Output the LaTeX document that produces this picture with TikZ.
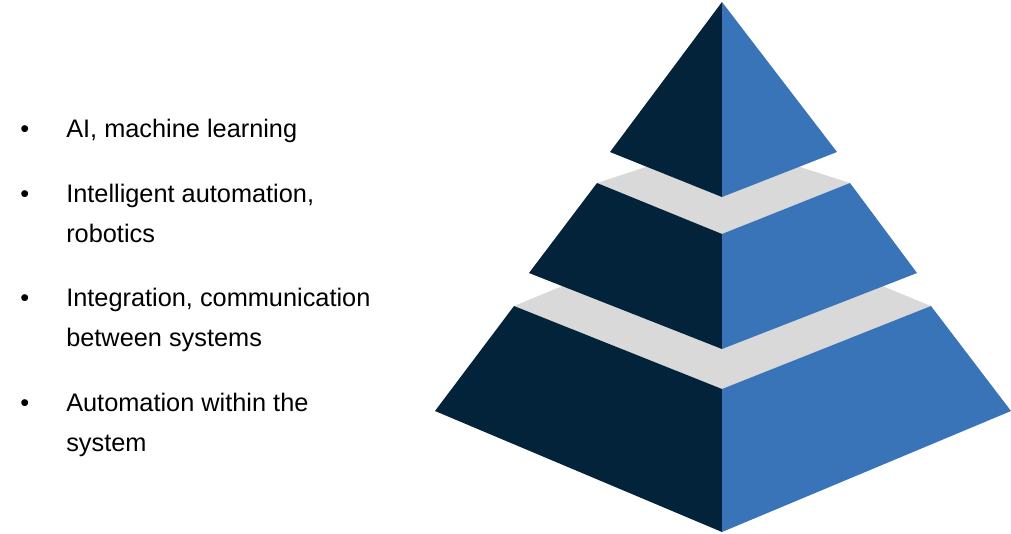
\documentclass[tikz,border=0pt]{standalone}
\usepackage{fontspec}
\setmainfont{Liberation Sans}
\definecolor{dk}{HTML}{02233A}
\definecolor{bl}{HTML}{3A74B8}
\definecolor{gr}{HTML}{D9D9D9}
\begin{document}
\begin{tikzpicture}[x=0.75pt,y=-0.75pt,
  txt/.style={anchor=base west,inner sep=0pt,font=\fontsize{19}{23}\selectfont,text=black}]
\useasboundingbox (0,0) rectangle (1011,533);
\fill[gr] (597,183)--(722,142)--(850,183)--(722,234)--cycle;
\fill[gr] (514,306)--(722,220)--(931,306)--(722,389)--cycle;
\fill[dk] (722,2)--(610,152)--(722,197)--cycle;
\fill[bl] (722,2)--(837,152)--(722,197)--cycle;
\fill[dk] (722,234)--(597,183)--(529,273)--(722,349)--cycle;
\fill[bl] (722,234)--(850,183)--(917,273)--(722,349)--cycle;
\fill[dk] (722,389)--(514,306)--(435,411)--(722,532)--cycle;
\fill[bl] (722,389)--(931,306)--(1011,411)--(722,532)--cycle;
\foreach \n/\y in {b1/137,b2/202,b3/306,b4/411}
  \node[txt] (\n) at (20,\y) {•};
\node[txt] (t1) at (66,137) {AI, machine learning};
\node[txt] (t2) at (66,202) {Intelligent automation,};
\node[txt] (t2b) at (66,242) {robotics};
\node[txt] (t3) at (66,306) {Integration, communication};
\node[txt] (t3b) at (66,346) {between systems};
\node[txt] (t4) at (66,411) {Automation within the};
\node[txt] (t4b) at (66,451) {system};
\end{tikzpicture}
\end{document}
